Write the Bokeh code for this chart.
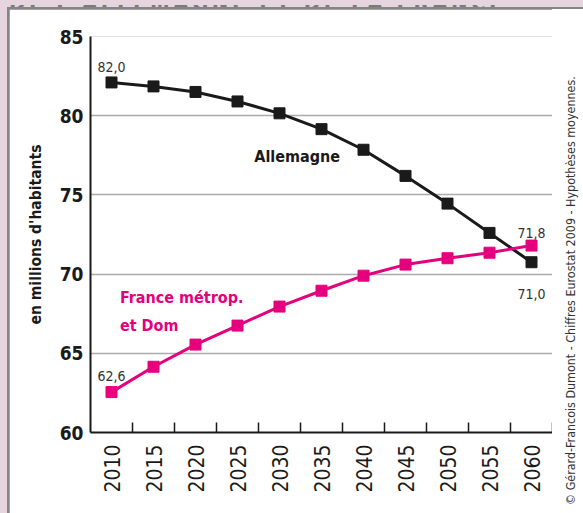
import math
from bokeh.plotting import figure
from bokeh.models import Range1d, FixedTicker, Label, Div
from bokeh.layouts import column, row
from bokeh.embed import file_html
from bokeh.resources import INLINE

years = [2010, 2015, 2020, 2025, 2030, 2035, 2040, 2045, 2050, 2055, 2060]
allemagne = [82.1, 81.85, 81.5, 80.9, 80.15, 79.15, 77.85, 76.2, 74.45, 72.6, 70.75]
france = [62.55, 64.15, 65.55, 66.75, 67.95, 68.95, 69.9, 70.6, 71.0, 71.35, 71.8]
y_ticks = [60, 65, 70, 75, 80, 85]
source = "© Gérard-Francois Dumont - Chiffres Eurostat 2009 - Hypothèses moyennes."
title = "DE L'ALLEMAGNE ET DE LA FRANCE"

FONT = "DejaVu Sans Condensed"
BLACK = "#1a1a1a"
MAGENTA = "#e5007d"
PINK = "#e6d5de"
FRAME_GRAY = "#858585"

p = figure(width=543, height=504, output_backend="svg", toolbar_location=None,
           x_range=Range1d(2007.5, 2062.5), y_range=Range1d(60, 85),
           min_border_left=81, min_border_right=0, min_border_top=27, min_border_bottom=81)
p.outline_line_color = None
p.background_fill_color = "white"
p.border_fill_color = "white"

p.xgrid.visible = False
p.ygrid.grid_line_color = "#ababab"
p.ygrid.grid_line_width = 1.6

# y axis
p.yaxis.ticker = FixedTicker(ticks=y_ticks)
p.yaxis.axis_line_color = BLACK
p.yaxis.axis_line_width = 2
p.yaxis.major_tick_out = 0
p.yaxis.major_tick_in = 0
p.yaxis.minor_tick_out = 0
p.yaxis.minor_tick_in = 0
p.yaxis.major_label_text_font = FONT
p.yaxis.major_label_text_font_style = "bold"
p.yaxis.major_label_text_font_size = "19px"
p.yaxis.major_label_text_color = BLACK
p.yaxis.major_label_standoff = 7
p.yaxis.axis_label = "en millions d'habitants"
p.yaxis.axis_label_text_font = FONT
p.yaxis.axis_label_text_font_style = "bold"
p.yaxis.axis_label_text_font_size = "15.5px"
p.yaxis.axis_label_text_color = BLACK
p.yaxis.axis_label_standoff = 12

# x axis
p.xaxis.ticker = FixedTicker(ticks=years, minor_ticks=[y + 2.5 for y in years])
p.xaxis.axis_line_color = BLACK
p.xaxis.axis_line_width = 2
p.xaxis.major_tick_out = 0
p.xaxis.major_tick_in = 0
p.xaxis.minor_tick_out = 0
p.xaxis.minor_tick_in = 10
p.xaxis.minor_tick_line_color = BLACK
p.xaxis.minor_tick_line_width = 1.5
p.xaxis.major_label_orientation = math.pi / 2
p.xaxis.major_label_text_font = FONT
p.xaxis.major_label_text_font_size = "21px"
p.xaxis.major_label_text_font_style = "normal"
p.xaxis.major_label_text_color = BLACK
p.xaxis.major_label_standoff = 12

# series
p.line(years, allemagne, line_color=BLACK, line_width=3)
p.scatter(years, allemagne, marker="square", size=11, fill_color=BLACK, line_color=BLACK)
p.line(years, france, line_color=MAGENTA, line_width=3)
p.scatter(years, france, marker="square", size=11, fill_color=MAGENTA, line_color=MAGENTA)

def lab(x, y, text, size, color=BLACK, bold=False, align="center"):
    p.add_layout(Label(x=x, y=y, text=text, text_font=FONT, text_font_size=size,
                       text_color=color, text_font_style="bold" if bold else "normal",
                       text_align=align, text_baseline="alphabetic"))

lab(years[0], 83.1, "82,0", "14px", "#333333")
lab(years[0], 63.55, "62,6", "14px", "#333333")
lab(years[-1], 72.6, "71,8", "14px", "#333333")
lab(years[-1], 68.75, "71,0", "14px", "#333333")
lab(2027.0, 77.45, "Allemagne", "16px", BLACK, bold=True, align="left")
lab(2011.0, 68.5, "France métrop.", "16px", MAGENTA, bold=True, align="left")
lab(2011.0, 66.75, "et Dom", "16px", MAGENTA, bold=True, align="left")

# source note, rotated, in the strip right of the plot
src = Div(text=('<div style="position:relative;width:31px;height:504px;overflow:hidden">'
                '<div style="position:absolute;left:12px;top:496px;transform:rotate(-90deg);'
                'transform-origin:left top;white-space:nowrap;line-height:14px;'
                'font-family:\'DejaVu Sans Condensed\';font-size:12.4px;color:#333333">'
                + source + '</div></div>'),
          width=31, height=504, margin=0,
          styles={"background-color": "white", "overflow": "hidden"})

# cut-off heading in the pink band
head = Div(text=('<div style="position:relative;width:576px;height:7px;overflow:hidden">'
                 '<div style="position:absolute;left:2px;top:-13px;line-height:22px;'
                 'font-family:\'DejaVu Sans Condensed\';font-weight:bold;font-size:22px;'
                 'letter-spacing:3.5px;color:#7a7a7a;white-space:nowrap">' + title + '</div></div>'),
           width=576, height=7, margin=0, styles={"overflow": "hidden"})

inner = column(row(p, src), styles={"background-color": FRAME_GRAY, "padding-left": "2px", "padding-top": "2px"})
page = column(head, inner, styles={"background-color": PINK, "padding-left": "7px"})

open("out.html", "w").write(file_html(page, INLINE))
